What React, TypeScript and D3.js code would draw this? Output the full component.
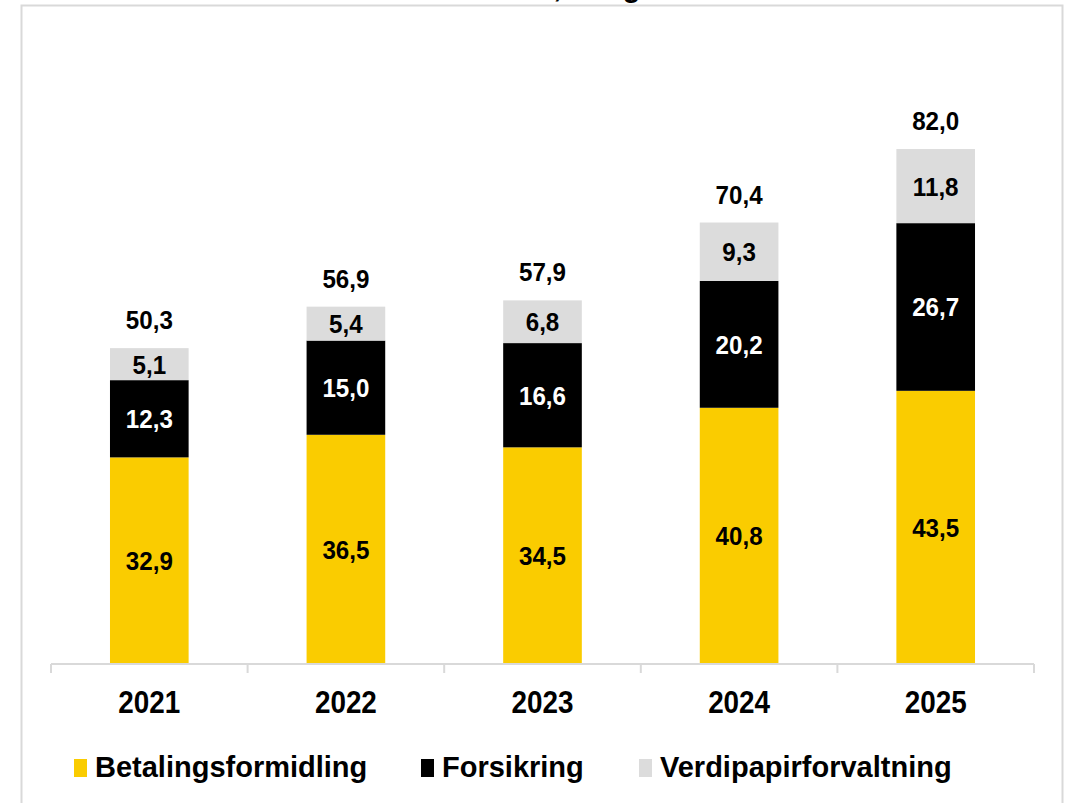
import * as d3 from "d3";

const years = ["2021", "2022", "2023", "2024", "2025"];
const betaling = [32.9, 36.5, 34.5, 40.8, 43.5];
const forsikring = [12.3, 15.0, 16.6, 20.2, 26.7];
const verdipapir = [5.1, 5.4, 6.8, 9.3, 11.8];
const totals = [50.3, 56.9, 57.9, 70.4, 82.0];

const seriesNames = ["Betalingsformidling", "Forsikring", "Verdipapirforvaltning"];
const seriesColors = ["#FACC00", "#000000", "#DCDCDC"];
const labelColors = ["#000000", "#FFFFFF", "#000000"];

const W = 1074;
const H = 803;
const FONT = "'Liberation Sans', Arial, sans-serif";
const fmt = (v: number) => v.toFixed(1).replace(".", ",");

export default function App() {
  const rows = years.map((year, i) => ({
    year,
    b: betaling[i],
    f: forsikring[i],
    v: verdipapir[i],
  }));
  const keys = ["b", "f", "v"];
  const layers = d3.stack<any>().keys(keys)(rows);

  const x = d3
    .scaleBand()
    .domain(years)
    .range([51, 1034])
    .paddingInner(0.6)
    .paddingOuter(0.3);
  const y = d3.scaleLinear().domain([0, 90]).range([664, 664 - 90 * 6.28]);

  const step = x.step();
  const bw = x.bandwidth();
  const x0 = x.range()[0];
  const tickXs = d3.range(years.length + 1).map((i) => x0 + i * step);

  const legendX = [74, 421, 639];

  return (
    <svg
      width={W}
      height={H}
      style={{ position: "absolute", left: 0, top: 0, background: "#fff" }}
      fontFamily={FONT}
      fontWeight="bold"
    >
      <text x={352} y={-3} fontSize={29}>
        Inntekter totalt, kr og andel
      </text>
      <rect x={21.5} y={5.5} width={1041} height={900} fill="none" stroke="#D9D9D9" strokeWidth={2} />

      {layers.map((layer, li) => (
        <g key={layer.key} fill={seriesColors[li]}>
          {layer.map((d, i) => (
            <rect
              key={i}
              x={x(years[i])}
              y={y(d[1])}
              width={bw}
              height={y(d[0]) - y(d[1])}
            />
          ))}
        </g>
      ))}

      {layers.map((layer, li) =>
        layer.map((d, i) => {
          const cx = (x(years[i]) as number) + bw / 2;
          const cy = (y(d[0]) + y(d[1])) / 2 + 9.5;
          return (
            <text
              key={`${li}-${i}`}
              transform={`translate(${cx},${cy}) scale(0.93,1)`}
              textAnchor="middle"
              fontSize={26}
              fill={labelColors[li]}
            >
              {fmt(d[1] - d[0])}
            </text>
          );
        })
      )}

      {totals.map((t, i) => {
        const top = layers[layers.length - 1][i][1];
        const cx = (x(years[i]) as number) + bw / 2;
        return (
          <text
            key={`t${i}`}
            transform={`translate(${cx},${y(top) - 19}) scale(0.93,1)`}
            textAnchor="middle"
            fontSize={26}
            fill="#000"
          >
            {fmt(t)}
          </text>
        );
      })}

      <line x1={x0} x2={x0 + step * years.length} y1={664} y2={664} stroke="#D9D9D9" strokeWidth={2} />
      {tickXs.map((tx, i) => (
        <line key={`k${i}`} x1={tx} x2={tx} y1={664} y2={673} stroke="#D9D9D9" strokeWidth={2} />
      ))}
      {years.map((yr) => (
        <text
          key={yr}
          transform={`translate(${(x(yr) as number) + bw / 2},713) scale(0.87,1)`}
          textAnchor="middle"
          fontSize={32}
        >
          {yr}
        </text>
      ))}

      {seriesNames.map((name, i) => (
        <g key={name}>
          <rect x={legendX[i]} y={759} width={13} height={18} fill={seriesColors[i]} />
          <text x={legendX[i] + 21} y={777} fontSize={29}>
            {name}
          </text>
        </g>
      ))}
    </svg>
  );
}
